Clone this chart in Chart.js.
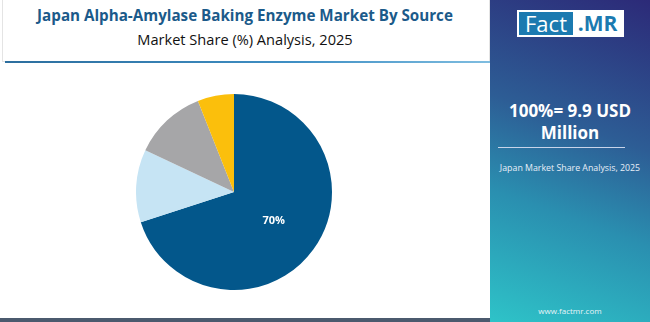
<!DOCTYPE html>
<html>
<head>
<meta charset="utf-8">
<script src="https://cdn.jsdelivr.net/npm/chart.js@4.4.0/dist/chart.umd.min.js"></script>
<style>
    body { margin: 0; width: 650px; height: 322px; overflow: hidden; background: #fff; font-family: 'Open Sans', sans-serif; position: relative; }
    #titleBox { position: absolute; left: 2px; top: 0; width: 488px; height: 62px; border: 1px solid #e4e4e4; border-top: none; box-sizing: border-box; }
    #titleLine { position: absolute; left: 5px; top: 61px; width: 485px; height: 2px; background: linear-gradient(90deg, #2c6e9e, #3f8fc4 60%, #7fbde0); }
    #title { position: absolute; left: 0; top: 5px; width: 490px; text-align: center; font-weight: 700; font-size: 15.2px; color: #1b5a8a; }
    #subtitle { position: absolute; left: 0; top: 29px; width: 490px; text-align: center; font-size: 14.6px; color: #111; }
    #chartWrap { position: absolute; left: 136px; top: 94px; width: 196px; height: 196px; }
    #side { position: absolute; left: 490px; top: 0; width: 160px; height: 322px;
        background: linear-gradient(20deg, #2ec3c8 0%, #2a8fb0 35%, #2d5d95 60%, #2c2a78 100%); color: #fff; text-align: center; }
    #logo { position: absolute; left: 27px; top: 10px; width: 107px; height: 27px; background: #fff; box-sizing: border-box; padding: 2px; display: flex; }
    #logo .f { background: #1b7ab0; color: #fff; font-size: 22px; line-height: 23px; width: 54px; text-align: center; }
    #logo .m { color: #1b7ab0; font-weight: 700; font-size: 21px; line-height: 23px; flex: 1; text-align: center; }
    #big { position: absolute; left: 0; top: 100px; width: 160px; font-weight: 700; font-size: 17px; line-height: 22px; }
    #sep { position: absolute; left: 8px; top: 147px; width: 127px; height: 1px; background: #c8d4ea; }
    #sub2 { position: absolute; left: 0; top: 162px; width: 160px; font-size: 8.8px; color: #e8eef8; }
    #url { position: absolute; left: 0; top: 305px; width: 160px; font-size: 8px; color: #e8f4f8; }
    #bottom { position: absolute; left: 0; top: 318px; width: 490px; height: 4px; background: #4b5a6e; }
</style>
</head>
<body>
<div id="titleBox"></div>
<div id="titleLine"></div>
<div id="title">Japan Alpha-Amylase Baking Enzyme Market By Source</div>
<div id="subtitle">Market Share (%) Analysis, 2025</div>
<div id="chartWrap"><canvas id="pieChart"></canvas></div>
<div id="side">
    <div id="logo"><div class="f">Fact</div><div class="m">.MR</div></div>
    <div id="big">100%= 9.9 USD<br>Million</div>
    <div id="sep"></div>
    <div id="sub2">Japan Market Share Analysis, 2025</div>
    <div id="url">www.factmr.com</div>
</div>
<div id="bottom"></div>
<script>
const sources = ['Microbial', 'Plant', 'Animal', 'Others'];
const shares = [70, 12, 12, 6];
const sliceColors = ['#03578b', '#c6e4f4', '#a6a6a8', '#fbbf0c'];
const labelMin = 20; // only the big slice gets a label in the original

// draws the percent text inside the slices
const sliceLabels = {
    id: 'sliceLabels',
    afterDatasetsDraw(chart) {
        const ctx = chart.ctx;
        const meta = chart.getDatasetMeta(0);
        ctx.save();
        ctx.font = '700 11px "Open Sans", sans-serif';
        ctx.fillStyle = '#ffffff';
        ctx.textAlign = 'center';
        ctx.textBaseline = 'middle';
        meta.data.forEach((arc, i) => {
            if (shares[i] < labelMin) return;
            const pos = arc.tooltipPosition();
            ctx.fillText(shares[i] + '%', pos.x, pos.y);
        });
        ctx.restore();
    }
};

new Chart(document.getElementById('pieChart'), {
    type: 'pie',
    data: {
        labels: sources,
        datasets: [{
            data: shares,
            backgroundColor: sliceColors,
            borderWidth: 0
        }]
    },
    options: {
        responsive: true,
        maintainAspectRatio: false,
        animation: false,
        layout: { padding: 0 },
        plugins: {
            legend: { display: false },
            tooltip: { enabled: false }
        }
    },
    plugins: [sliceLabels]
});
</script>
</body>
</html>
